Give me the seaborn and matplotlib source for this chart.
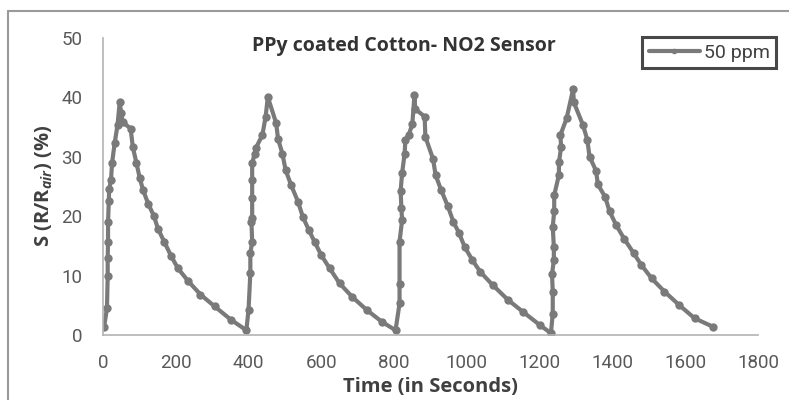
import matplotlib
matplotlib.use("Agg")
import matplotlib.pyplot as plt
import matplotlib.lines as mlines
import matplotlib.font_manager as fm
import seaborn as sns
import pandas as pd

# Four exposure / recovery cycles of the sensor response
time_s = [
    3, 11, 13, 13, 14, 14, 16, 17, 22, 25, 32, 40, 46, 50, 54,
    76, 82, 92, 101, 110, 124, 140, 151, 168, 188, 206, 235, 268, 307, 351, 394,
    400, 405, 405, 410, 408, 410, 410, 410, 410, 417, 420, 438, 447, 453,
    476, 481, 493, 502, 517, 536, 549, 566, 582, 600, 623, 650, 685, 725, 767, 804,
    815, 815, 815, 822, 820, 818, 822, 829, 831, 840, 850, 856, 858,
    884, 886, 907, 914, 929, 948, 963, 978, 994, 1015, 1037, 1071, 1113, 1154, 1200, 1231,
    1236, 1236, 1234, 1239, 1239, 1236, 1240, 1240, 1253, 1253, 1259, 1257, 1274, 1292, 1294,
    1319, 1331, 1337, 1355, 1360, 1380, 1392, 1410, 1433, 1459, 1479, 1508, 1543, 1584, 1626, 1676,
]
response_pct = [
    1.3, 4.5, 10.0, 12.9, 15.7, 19.0, 22.5, 24.5, 26.0, 28.9, 32.2, 35.3, 39.1, 37.3, 35.8,
    34.7, 31.6, 28.9, 26.4, 24.4, 22.1, 20.0, 17.9, 15.7, 13.2, 11.2, 9.0, 6.8, 4.8, 2.6, 0.8,
    4.2, 10.4, 13.7, 15.7, 19.0, 19.7, 23.1, 26.0, 28.9, 30.5, 31.4, 33.6, 36.7, 40.0,
    35.6, 33.0, 30.5, 27.7, 25.2, 22.4, 19.9, 17.6, 15.6, 13.4, 11.2, 8.7, 6.4, 4.2, 2.2, 0.8,
    5.3, 8.5, 15.7, 19.3, 21.4, 24.2, 27.2, 30.5, 32.8, 33.6, 35.4, 40.3, 38.0,
    36.7, 33.3, 29.6, 26.9, 24.4, 21.6, 19.0, 17.2, 14.8, 12.6, 10.6, 8.4, 5.9, 3.9, 1.7, 0.3,
    3.6, 7.3, 10.2, 12.6, 14.8, 18.2, 20.8, 23.5, 26.9, 29.0, 31.6, 33.6, 36.4, 41.3, 39.1,
    35.3, 32.8, 30.0, 27.6, 25.3, 23.2, 20.8, 18.5, 16.1, 13.7, 11.8, 9.5, 7.3, 5.0, 2.8, 1.4,
]
series_label = "50 ppm"
x_ticks = [0, 200, 400, 600, 800, 1000, 1200, 1400, 1600, 1800]
y_ticks = [0, 10, 20, 30, 40, 50]

df = pd.DataFrame({"Time": time_s, "S": response_pct, "series": series_label})

sns.set_theme(style="white")
installed = {f.name for f in fm.fontManager.ttflist}
tick_family = ["Liberation Sans Narrow", "Roboto", "DejaVu Sans"]
tick_family = [f for f in tick_family if f in installed] or ["DejaVu Sans"]
label_family = ["Open Sans", "DejaVu Sans"]
plt.rcParams["font.family"] = label_family
plt.rcParams["mathtext.fontset"] = "custom"
plt.rcParams["mathtext.it"] = "Open Sans:italic:bold"
plt.rcParams["mathtext.rm"] = "Open Sans:bold"

fig = plt.figure(figsize=(7.89, 4.0), dpi=100)
ax = fig.add_axes([0.1305, 0.1625, 0.8302, 0.7437])

line_col = "#7a7a7a"
sns.lineplot(
    data=df, x="Time", y="S", hue="series", palette=[line_col],
    sort=False, estimator=None, marker="o", markersize=6,
    markeredgewidth=0, linewidth=3.0, ax=ax,
)

ax.set_xlim(0, 1800)
ax.set_ylim(0, 50)
ax.set_xticks(x_ticks)
ax.set_yticks(y_ticks)
ax.set_xticklabels([str(v) for v in x_ticks])
ax.set_yticklabels([str(v) for v in y_ticks])

spine_col = "#b3b3b3"
for side in ("top", "right"):
    ax.spines[side].set_visible(False)
for side in ("left", "bottom"):
    ax.spines[side].set_color(spine_col)
    ax.spines[side].set_linewidth(1.2)
ax.tick_params(axis="x", which="major", direction="out", length=5,
               width=1.0, color=spine_col, labelcolor="#595959", pad=9)
ax.tick_params(axis="y", which="major", direction="out", length=5,
               width=1.0, color=spine_col, labelcolor="#595959", pad=10)
for lab in ax.get_xticklabels() + ax.get_yticklabels():
    lab.set_family(tick_family)
    lab.set_fontsize(13.5)

ax.set_xlabel("Time (in Seconds)", fontsize=14.5, fontweight="bold",
              color="#404040", labelpad=3, family=label_family)
ax.set_ylabel(r"S (R/R$_{\mathit{air}}$) (%)", fontsize=14.5, fontweight="bold",
              color="#404040", labelpad=4, family=label_family)

fig.text(0.512, 0.886, "PPy coated Cotton- NO2 Sensor", ha="center", va="center",
         fontsize=14, fontweight="bold", color="#333333", family=label_family)

leg = ax.legend(loc="upper right", bbox_to_anchor=(0.984, 0.908),
                bbox_transform=fig.transFigure, borderaxespad=0.0,
                frameon=True, fancybox=False,
                handlelength=2.6, handletextpad=0.2, borderpad=0.35,
                prop={"family": tick_family, "size": 14})
leg.get_frame().set_edgecolor("#1a1a1a")
leg.get_frame().set_linewidth(2.2)
for txt in leg.get_texts():
    txt.set_color("#404040")
for h in leg.get_lines():
    h.set_markersize(4)

# Outer frame edges around the chart (left and top)
frame_col = "#9a9a9a"
fig.add_artist(mlines.Line2D([8 / 789, 8 / 789], [0, 1 - 11 / 400],
                             transform=fig.transFigure, color=frame_col, linewidth=1.5))
fig.add_artist(mlines.Line2D([8 / 789, 1], [1 - 11 / 400, 1 - 11 / 400],
                             transform=fig.transFigure, color=frame_col, linewidth=1.5))

fig.savefig("out.png", dpi=100, facecolor="white")
